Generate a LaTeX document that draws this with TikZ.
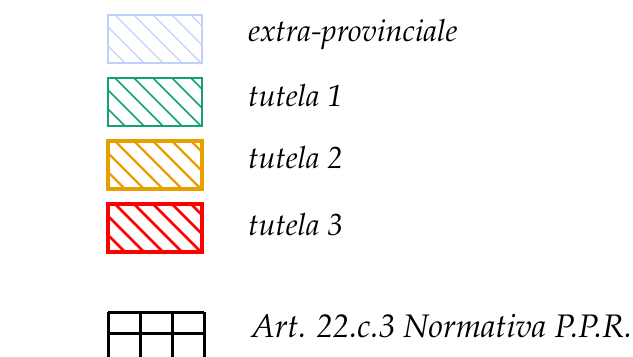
\documentclass[tikz,border=0pt]{standalone}
\usepackage[T1]{fontenc}
\usepackage{mathpazo}
\usetikzlibrary{calc}
\definecolor{extraprov}{RGB}{192,208,250}
\definecolor{tutelaone}{RGB}{20,160,120}
\definecolor{tutelatwo}{RGB}{232,160,0}
\definecolor{tutelathree}{RGB}{255,0,0}
\def\hatchbox[#1][#2](#3,#4){%
  \begin{scope}
    \clip (#3,#4) rectangle ++(94,48);
    \foreach \k in {-69,-50,...,100} \draw[#1,line width=#2] (#3+\k,#4) -- ++(60,60);
  \end{scope}
  \draw[#1] (#3,#4) rectangle ++(94,48);}

\begin{document}
\begin{tikzpicture}[x=0.5pt,y=-0.5pt,
    legendtext/.style={anchor=base west,inner sep=0pt,font=\fontsize{15.3}{18}\selectfont\itshape}]
			%%%%% START %%%%%
			\useasboundingbox (0,0) rectangle (633,357);
			\clip (0,0) rectangle (633,357);
			
			\hatchbox[extraprov,line width=1pt][0.6pt](108,15);
			\hatchbox[tutelaone,line width=1pt][0.8pt](108,78);
			\hatchbox[tutelatwo,line width=2pt][1.2pt](108,141);
			\hatchbox[tutelathree,line width=2pt][1.4pt](108,204);
			
			\node[legendtext] (extra) at (248,42) {extra-provinciale};
			\node[legendtext] (tut1) at (248,107) {tutela 1};
			\node[legendtext] (tut2) at (248,169) {tutela 2};
			\node[legendtext] (tut3) at (248,236) {tutela 3};
			
			% griglia Art. 22
			\draw[line width=1.5pt] (108,313) -- (204,313);
			\draw[line width=1.5pt] (108,334) -- (204,334);
			\foreach \x in {108,140,172,204} \draw[line width=1.5pt] (\x,312.2) -- (\x,370);
			
			\node[legendtext,font=\fontsize{16.3}{19}\selectfont\itshape] (art) at (251,338) {Art. 22.c.3 Normativa P.P.R.};
			
			%%%%% END %%%%%
		\end{tikzpicture}
\end{document}
